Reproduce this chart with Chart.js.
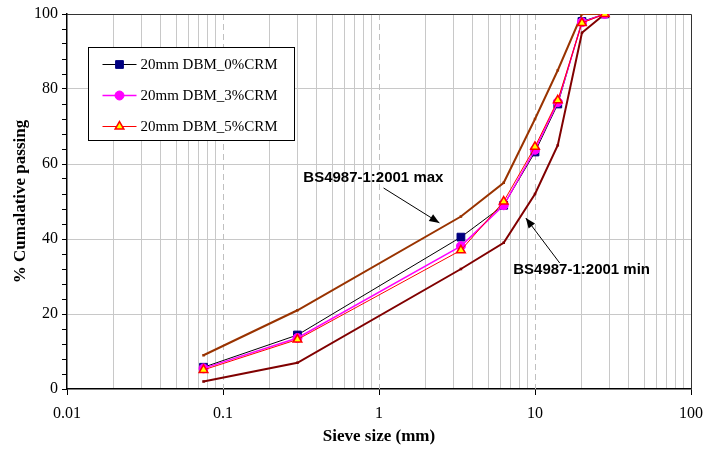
<!DOCTYPE html>
<html>
<head>
<meta charset="utf-8">
<script src="https://cdn.jsdelivr.net/npm/chart.js@4/dist/chart.umd.min.js"></script>
<style>
    body { margin: 0; background: #fff; }
    #wrap { width: 706px; height: 455px; }
</style>
</head>
<body>
<div id="wrap"><canvas id="gradingChart" width="706" height="455"></canvas></div>
<script>
// Sieve sizes (mm) and cumulative % passing
const sieveSizes = [0.075, 0.3, 3.35, 6.3, 10, 14, 20, 28];
const crm0 = [5.8, 14.4, 40.5, 49, 63.2, 76, 98, 100];
const crm3 = [5.5, 13.6, 38.1, 49, 63.8, 76.5, 97.8, 100];
const crm5 = [5.1, 13.2, 37, 50, 64.6, 77, 97.6, 100];
const bsMax = [9, 21, 46, 55, 72, 85, 100, 100];
const bsMin = [2, 7, 32, 39, 52, 65, 95, 100];

const seriesLabels = ['20mm DBM_0%CRM', '20mm DBM_3%CRM', '20mm DBM_5%CRM'];
const xTickLabels = [0.01, 0.1, 1, 10, 100];

// annotation anchors in data units: text position, arrow tail, arrow head
const notes = [
    { text: 'BS4987-1:2001 max', at: [0.92, 56.3], from: [1.07, 53.6], to: [2.44, 44.3] },
    { text: 'BS4987-1:2001 min', at: [19.9, 31.7], from: [14.4, 33.6], to: [8.73, 45.6] }
];

const serif = "'Liberation Serif', 'Times New Roman', serif";
const sans = "'Liberation Sans', Arial, sans-serif";

function pairs(ys) {
    return sieveSizes.map((x, i) => ({ x: x, y: ys[i] }));
}

function isDecade(v) {
    const l = Math.log10(v);
    return Math.abs(l - Math.round(l)) < 1e-9;
}

/**
 * Dashed decade lines and the frame of the plot area
 */
const framePlugin = {
    id: 'frame',
    beforeDatasetsDraw(chart) {
        const { ctx, chartArea: a, scales } = chart;
        ctx.save();
        ctx.strokeStyle = '#c0c0c0';
        ctx.lineWidth = 1;
        ctx.setLineDash([6, 4]);
        [0.1, 1, 10].forEach(v => {
            const x = Math.round(scales.x.getPixelForValue(v)) + 0.5;
            ctx.beginPath();
            ctx.moveTo(x, a.top);
            ctx.lineTo(x, a.bottom);
            ctx.stroke();
        });
        ctx.setLineDash([]);
        ctx.strokeStyle = '#333';
        ctx.beginPath();
        ctx.moveTo(a.left, a.top + 0.5);
        ctx.lineTo(a.right + 0.5, a.top + 0.5);
        ctx.lineTo(a.right + 0.5, a.bottom);
        ctx.stroke();
        ctx.restore();
    }
};

/**
 * Text labels with arrows for the specification limits
 */
const notesPlugin = {
    id: 'notes',
    afterDatasetsDraw(chart) {
        const { ctx, scales } = chart;
        const px = p => [scales.x.getPixelForValue(p[0]), scales.y.getPixelForValue(p[1])];
        ctx.save();
        notes.forEach(n => {
            const [tx, ty] = px(n.at);
            ctx.font = 'bold 15px ' + sans;
            ctx.fillStyle = '#000';
            ctx.textAlign = 'center';
            ctx.textBaseline = 'middle';
            ctx.fillText(n.text, tx, ty);

            const [x1, y1] = px(n.from);
            const [x2, y2] = px(n.to);
            ctx.strokeStyle = '#000';
            ctx.lineWidth = 1;
            ctx.beginPath();
            ctx.moveTo(x1, y1);
            ctx.lineTo(x2, y2);
            ctx.stroke();
            const ang = Math.atan2(y2 - y1, x2 - x1);
            const len = 10, w = 4;
            ctx.beginPath();
            ctx.moveTo(x2, y2);
            ctx.lineTo(x2 - len * Math.cos(ang) + w * Math.sin(ang), y2 - len * Math.sin(ang) - w * Math.cos(ang));
            ctx.lineTo(x2 - len * Math.cos(ang) - w * Math.sin(ang), y2 - len * Math.sin(ang) + w * Math.cos(ang));
            ctx.closePath();
            ctx.fill();
        });
        ctx.restore();
    }
};

/**
 * Boxed legend in the upper left of the plot
 */
const boxLegendPlugin = {
    id: 'boxLegend',
    afterDraw(chart) {
        const { ctx } = chart;
        const box = { x: 88.5, y: 47.5, w: 206, h: 93 };
        ctx.save();
        ctx.fillStyle = '#fff';
        ctx.fillRect(box.x, box.y, box.w, box.h);
        ctx.strokeStyle = '#000';
        ctx.lineWidth = 1;
        ctx.strokeRect(box.x, box.y, box.w, box.h);

        seriesLabels.forEach((label, i) => {
            const ds = chart.data.datasets[i];
            const y = box.y + 17 + i * 31;
            ctx.strokeStyle = ds.borderColor;
            ctx.lineWidth = ds.borderWidth;
            ctx.beginPath();
            ctx.moveTo(box.x + 14, y);
            ctx.lineTo(box.x + 48, y);
            ctx.stroke();
            ctx.fillStyle = ds.pointBackgroundColor;
            ctx.strokeStyle = ds.pointBorderColor;
            ctx.lineWidth = ds.pointBorderWidth;
            Chart.helpers.drawPoint(ctx, {
                pointStyle: ds.pointStyle, radius: ds.pointRadius, rotation: 0, borderWidth: ds.pointBorderWidth
            }, box.x + 31, y);
            ctx.fillStyle = '#000';
            ctx.font = '15px ' + serif;
            ctx.textAlign = 'left';
            ctx.textBaseline = 'middle';
            ctx.fillText(label, box.x + 52, y + 1);
        });
        ctx.restore();
    }
};

function init() {
    const ctx = document.getElementById('gradingChart');
    new Chart(ctx, {
        type: 'line',
        data: {
            datasets: [
                {
                    label: seriesLabels[0], data: pairs(crm0), order: 2,
                    borderColor: '#000000', borderWidth: 1,
                    pointStyle: 'rect', pointRadius: 5.5,
                    pointBackgroundColor: '#000080', pointBorderColor: '#000080', pointBorderWidth: 1
                },
                {
                    label: seriesLabels[1], data: pairs(crm3), order: 1,
                    borderColor: '#ff00ff', borderWidth: 1.5,
                    pointStyle: 'circle', pointRadius: 4.5,
                    pointBackgroundColor: '#ff00ff', pointBorderColor: '#ff00ff', pointBorderWidth: 1
                },
                {
                    label: seriesLabels[2], data: pairs(crm5), order: 0,
                    borderColor: '#ff0000', borderWidth: 1,
                    pointStyle: 'triangle', pointRadius: 5,
                    pointBackgroundColor: '#ffff00', pointBorderColor: '#ff0000', pointBorderWidth: 1.5
                },
                {
                    label: 'BS4987-1:2001 max', data: pairs(bsMax), order: 3,
                    borderColor: '#993300', borderWidth: 2,
                    pointStyle: 'rect', pointRadius: 1.8,
                    pointBackgroundColor: '#993300', pointBorderColor: '#993300', pointBorderWidth: 0
                },
                {
                    label: 'BS4987-1:2001 min', data: pairs(bsMin), order: 4,
                    borderColor: '#800000', borderWidth: 2,
                    pointStyle: 'rect', pointRadius: 1.8,
                    pointBackgroundColor: '#800000', pointBorderColor: '#800000', pointBorderWidth: 0
                }
            ]
        },
        options: {
            responsive: false,
            animation: false,
            layout: { padding: { top: 14, right: 15, left: 0, bottom: 0 } },
            plugins: {
                legend: { display: false },
                tooltip: { enabled: false }
            },
            scales: {
                x: {
                    type: 'logarithmic',
                    min: 0.01,
                    max: 100,
                    afterBuildTicks: scale => {
                        const ticks = [];
                        for (let e = -2; e <= 1; e++) {
                            for (let m = 1; m <= 9; m++) ticks.push({ value: m * Math.pow(10, e) });
                        }
                        ticks.push({ value: 100 });
                        scale.ticks = ticks;
                    },
                    afterFit: scale => {
                        scale.height = 66;
                        // the end labels fit inside the layout padding
                        scale.paddingLeft = 0;
                        scale.paddingRight = 0;
                    },
                    ticks: {
                        autoSkip: false,
                        maxRotation: 0,
                        padding: 9,
                        color: '#000',
                        font: { family: serif, size: 16 },
                        callback: v => xTickLabels.includes(v) ? String(v) : ''
                    },
                    grid: {
                        color: c => (c.tick && isDecade(c.tick.value)) ? 'rgba(0,0,0,0)' : '#c8c8c8',
                        tickColor: c => (c.tick && isDecade(c.tick.value)) ? '#000' : 'rgba(0,0,0,0)',
                        tickLength: 6
                    },
                    border: { color: '#000', width: 1.5 },
                    title: {
                        display: true,
                        text: 'Sieve size (mm)',
                        color: '#000',
                        font: { family: serif, size: 17, weight: 'bold' },
                        padding: { top: 0, bottom: 8 }
                    }
                },
                y: {
                    min: 0,
                    max: 100,
                    afterFit: scale => { scale.width = 67; },
                    ticks: {
                        stepSize: 4,
                        autoSkip: false,
                        padding: 4,
                        color: '#000',
                        font: { family: serif, size: 16 },
                        callback: v => (v % 20 === 0) ? String(v) : ''
                    },
                    grid: {
                        color: c => (c.tick && c.tick.value % 20 === 0 && c.tick.value > 0 && c.tick.value < 100) ? '#c8c8c8' : 'rgba(0,0,0,0)',
                        tickColor: '#000',
                        tickLength: 5
                    },
                    border: { color: '#000', width: 1.5 },
                    title: {
                        display: true,
                        text: '% Cumalative passing',
                        color: '#000',
                        font: { family: serif, size: 17, weight: 'bold' },
                        padding: { top: 10, bottom: 0 }
                    }
                }
            }
        },
        plugins: [framePlugin, notesPlugin, boxLegendPlugin]
    });
}

init();
</script>
</body>
</html>
